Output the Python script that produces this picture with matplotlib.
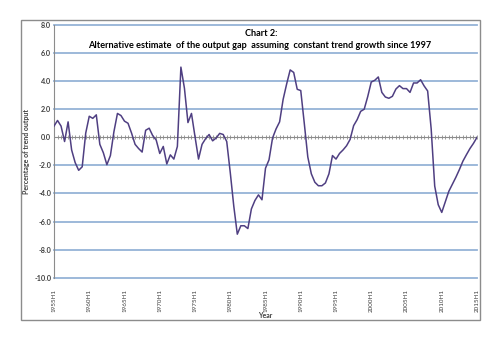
import matplotlib
matplotlib.use("Agg")
import matplotlib.pyplot as plt
from matplotlib.patches import Rectangle
import numpy as np

plt.rcParams['font.family'] = ['Lato', 'DejaVu Sans']

# Half-yearly periods 1955H1 .. 2015H1
years = list(range(1955, 2016))
periods = []
for y in years:
    periods.append(f"{y}H1")
    if y < 2015:
        periods.append(f"{y}H2")

gap = [0.8, 1.2, 0.8, -0.3, 1.1, -0.9, -1.8, -2.35, -2.1, 0.3,
       1.5, 1.35, 1.6, -0.5, -1.1, -1.95, -1.3, 0.4, 1.7, 1.55,
       1.15, 1.0, 0.3, -0.5, -0.8, -1.05, 0.5, 0.65, 0.12, -0.2,
       -1.15, -0.65, -1.9, -1.25, -1.55, -0.65, 5.0, 3.5, 1.05, 1.7,
       0.05, -1.55, -0.5, -0.1, 0.2, -0.25, -0.05, 0.28, 0.2, -0.3,
       -2.5, -4.9, -6.9, -6.3, -6.3, -6.5, -5.1, -4.5, -4.1, -4.45,
       -2.2, -1.6, -0.05, 0.6, 1.1, 2.7, 3.8, 4.8, 4.62, 3.42,
       3.33, 1.0, -1.4, -2.6, -3.2, -3.45, -3.45, -3.25, -2.6, -1.3,
       -1.55, -1.15, -0.9, -0.6, -0.15, 0.83, 1.26, 1.85, 2.0, 2.9,
       3.94, 4.06, 4.3, 3.2, 2.87, 2.78, 2.92, 3.44, 3.68, 3.47,
       3.47, 3.2, 3.87, 3.87, 4.1, 3.66, 3.3, 0.6, -3.47, -4.8,
       -5.35, -4.6, -3.85, -3.35, -2.85, -2.3, -1.7, -1.24, -0.8, -0.43,
       0.0]

yticks = [-10, -8, -6, -4, -2, 0, 2, 4, 6, 8]
label_every = 10

title_lines = ["Chart 2:",
               "Alternative estimate  of the output gap  assuming  constant trend growth since 1997"]

fig = plt.figure(figsize=(5.0, 3.41), dpi=100)
W, H = 500, 341

# outer chart frame
fig.patches.append(Rectangle((21 / W, 1 - 320 / H), (480 - 21) / W, (320 - 20) / H,
                             transform=fig.transFigure, fill=False,
                             edgecolor='#8c8c8c', linewidth=1.0))

ax = fig.add_axes([54 / W, 1 - 277.7 / H, (477 - 54) / W, (277.7 - 25) / H])
x = np.arange(len(periods))

ax.set_ylim(-10, 8)
ax.set_xlim(0, len(periods) - 1)
ax.set_yticks(yticks)
ax.set_yticklabels([f"{v:.1f}" for v in yticks], fontsize=5.2, fontweight='bold', color='#404040')
for v in yticks:
    if v != 0:
        ax.axhline(v, color='#95b3d7', linewidth=1.3, zorder=1, clip_on=False)

# zero axis with category tick marks
ax.axhline(0, color='#8c8c8c', linewidth=0.8, zorder=2)
ax.plot(x, np.zeros(len(x)), linestyle='none', marker='|', markersize=2.5,
        markeredgewidth=0.6, color='#8c8c8c', zorder=2)

ax.plot(x, gap, color='#4f3f82', linewidth=1.1, zorder=3)

ticks = x[::label_every]
ax.set_xticks(ticks)
ax.set_xticklabels([periods[i] for i in ticks], rotation=90, fontsize=4.5,
                   color='#404040', va='top')
ax.tick_params(axis='x', length=0, pad=8)
ax.tick_params(axis='y', length=0, pad=2)

for s in ['top', 'right', 'bottom']:
    ax.spines[s].set_visible(False)
ax.spines['left'].set_color('#8c8c8c')
ax.spines['left'].set_linewidth(0.8)

ax.set_ylabel("Percentage of trend output", fontsize=5.0, fontweight='bold', color='#404040', labelpad=3)
fig.text(265 / W, 1 - 315.5 / H, "Year", fontsize=5.0, fontweight='bold', color='#404040',
         ha='center', va='center')

fig.text(261 / W, 1 - 34 / H, title_lines[0], fontsize=6.6, fontweight='bold',
         ha='center', va='center', color='black')
fig.text(260 / W, 1 - 46 / H, title_lines[1], fontsize=6.6, fontweight='bold',
         ha='center', va='center', color='black')

fig.savefig("out.png", dpi=100, facecolor='white')
